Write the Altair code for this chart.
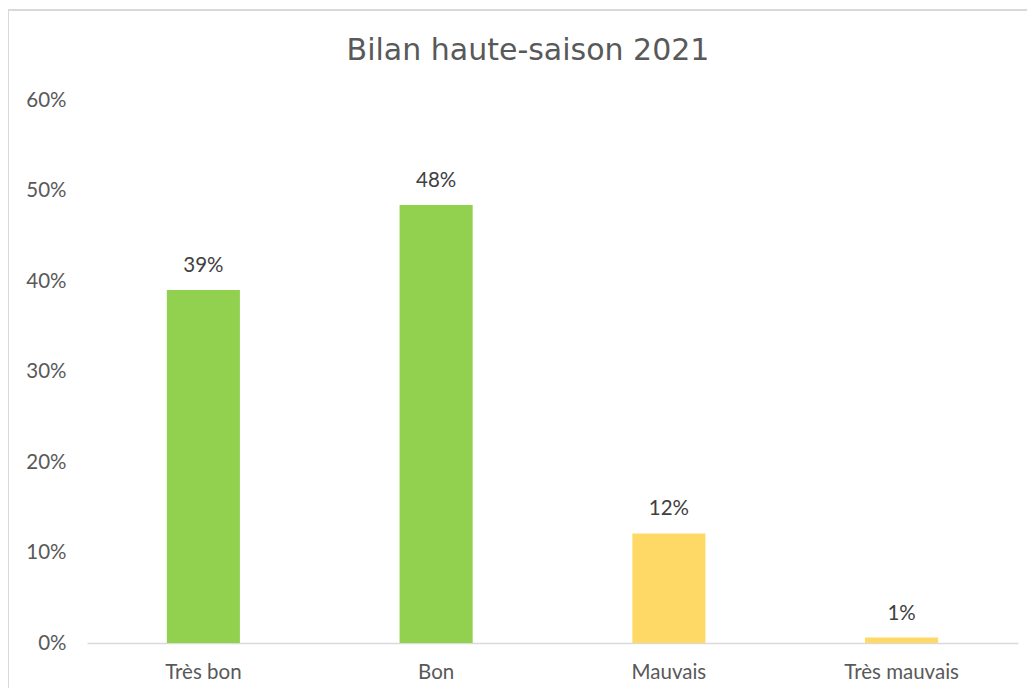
import altair as alt
import pandas as pd

categories = ["Très bon", "Bon", "Mauvais", "Très mauvais"]
values = [0.39, 0.484, 0.121, 0.006]
labels = ["39%", "48%", "12%", "1%"]
colors = ["#92D050", "#92D050", "#FFD966", "#FFD966"]
title_text = ["Bilan haute-saison 2021"]

df = pd.DataFrame({"cat": categories, "val": values, "lab": labels, "col": colors})

x = alt.X("cat:N", sort=categories, title=None,
          scale=alt.Scale(paddingInner=0.686, paddingOuter=0.343),
          axis=alt.Axis(labelAngle=0, labelFont="Lato", labelFontSize=20.5, labelColor="#595959",
                        labelPadding=19, ticks=False, domainColor="#d9d9d9", domainWidth=1.5))
y = alt.Y("val:Q", title=None,
          scale=alt.Scale(domain=[0, 0.6]),
          axis=alt.Axis(format=".0%", values=[0, 0.1, 0.2, 0.3, 0.4, 0.5, 0.6], grid=False,
                        domain=False, ticks=False, labelFont="Lato", labelFontSize=20.5,
                        labelColor="#595959", labelPadding=21))

bars = alt.Chart(df).mark_bar().encode(x=x, y=y, color=alt.Color("col:N", scale=None))
text = alt.Chart(df).mark_text(dy=-14, baseline="bottom", font="Lato", fontSize=20.5,
                               color="#404040").encode(x=x, y=y, text="lab:N")

frame = alt.Chart(pd.DataFrame({"a": [0]})).mark_rect(
    fill=None, stroke="#d9d9d9", strokeWidth=2, clip=False
).encode(x=alt.value(-79), x2=alt.value(980), y=alt.value(-90), y2=alt.value(640))

title = alt.Chart(pd.DataFrame({"t": title_text})).mark_text(
    font="DejaVu Sans", fontSize=30, color="#595959", baseline="alphabetic", align="center", clip=False
).encode(x=alt.value(441), y=alt.value(-40), text="t:N")

chart = alt.layer(frame, bars, text, title).properties(
    width=931, height=543,
    autosize=alt.AutoSizeParams(type="none"),
    padding={"left": 79, "top": 92, "right": 9, "bottom": 45},
).configure_view(stroke=None)

chart.save("out.html", embed_options={"renderer": "svg", "actions": False})
